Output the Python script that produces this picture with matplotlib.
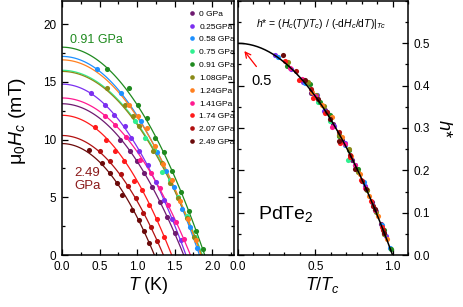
import numpy as np
import matplotlib
matplotlib.use('Agg')
import matplotlib.pyplot as plt
from matplotlib.ticker import MultipleLocator

plt.rcParams['font.family'] = ['Liberation Sans', 'DejaVu Sans']
plt.rcParams['mathtext.fontset'] = 'custom'
plt.rcParams['mathtext.rm'] = 'Liberation Sans'
plt.rcParams['mathtext.it'] = 'Liberation Sans:italic'

# pressure labels, colours, fit parameters (Hc0 in mT, Tc in K)
labels = ['0 GPa', '0.25GPa', '0.58 GPa', '0.75 GPa', '0.91 GPa', '1.08GPa',
          '1.24GPa', '1.41GPa', '1.74 GPa', '2.07 GPa', '2.49 GPa']
colors = ['#6e1a70', '#7b2ff0', '#1e90ff', '#30f090', '#1f8a1f', '#8a8a18',
          '#ff8020', '#ff1a90', '#ff1a1a', '#b01010', '#6a0a0a']
hc0 = [13.1, 14.8, 17.2, 16.0, 18.0, 15.9, 16.9, 13.6, 12.1, 10.35, 9.65]
tc = [1.62, 1.65, 1.83, 1.87, 1.90, 1.86, 1.85, 1.71, 1.46, 1.35, 1.23]

# measured points, T (K) and mu0Hc (mT)
T_0 = [0.77, 0.91, 1.00, 1.09, 1.20, 1.30, 1.40, 1.50]
H_0 = [10.0, 9.0, 8.1, 7.1, 5.9, 4.6, 3.3, 1.9]
T_025 = [0.39, 0.57, 0.69, 0.84, 0.92, 1.03, 1.14, 1.25, 1.36, 1.47, 1.58]
H_025 = [14.0, 13.0, 12.1, 11.2, 10.1, 9.0, 7.8, 6.3, 4.8, 3.1, 1.3]
T_058 = [0.47, 0.79, 1.05, 1.27, 1.38, 1.49, 1.60, 1.70, 1.80]
H_058 = [16.1, 14.0, 11.6, 8.9, 7.3, 5.9, 4.0, 2.4, 0.6]
T_075 = [0.97, 1.11, 1.22, 1.33, 1.44, 1.55, 1.66, 1.77]
H_075 = [11.6, 10.1, 9.1, 7.2, 6.5, 5.0, 3.4, 1.6]
T_091 = [0.60, 0.89, 1.01, 1.13, 1.24, 1.36, 1.47, 1.58, 1.69, 1.79, 1.88]
H_091 = [16.1, 14.5, 13.0, 11.9, 10.1, 8.9, 7.3, 5.5, 3.8, 2.1, 0.5]
T_108 = [0.60, 0.84, 0.94, 1.03, 1.21, 1.33, 1.44, 1.55, 1.66, 1.76]
H_108 = [14.5, 13.0, 12.0, 11.2, 9.0, 8.0, 6.2, 4.9, 3.2, 1.6]
T_124 = [0.89, 1.01, 1.13, 1.24, 1.35, 1.46, 1.57, 1.68, 1.78]
H_124 = [13.0, 12.0, 11.0, 9.4, 7.9, 6.5, 4.7, 3.1, 1.3]
T_141 = [0.57, 0.71, 0.85, 1.04, 1.18, 1.30, 1.41, 1.52, 1.62]
H_141 = [12.0, 11.3, 10.2, 8.2, 7.1, 5.8, 4.3, 2.9, 1.4]
T_174 = [0.44, 0.58, 0.71, 0.82, 0.96, 1.06, 1.16, 1.26, 1.36]
H_174 = [11.1, 10.0, 9.0, 8.1, 6.4, 5.6, 4.3, 3.1, 1.6]
T_207 = [0.51, 0.64, 0.78, 0.88, 0.98, 1.08, 1.18, 1.27]
H_207 = [9.0, 8.1, 7.0, 6.0, 4.9, 3.6, 2.4, 1.2]
T_249 = [0.36, 0.53, 0.64, 0.73, 0.80, 0.93, 1.02, 1.09, 1.16]
H_249 = [9.1, 8.0, 7.1, 6.2, 5.2, 3.9, 3.0, 2.1, 1.0]

Ts = [T_0, T_025, T_058, T_075, T_091, T_108, T_124, T_141, T_174, T_207, T_249]
Hs = [H_0, H_025, H_058, H_075, H_091, H_108, H_124, H_141, H_174, H_207, H_249]

fig = plt.figure(figsize=(4.63, 3.07), dpi=100)
ax1 = fig.add_axes([62 / 463, 52 / 307, 172 / 463, 254 / 307])
ax2 = fig.add_axes([238 / 463, 52 / 307, 170 / 463, 254 / 307])

for i in range(len(labels)):
    t = np.linspace(0, tc[i], 100)
    ax1.plot(t, hc0[i] * (1 - (t / tc[i]) ** 2), color=colors[i], lw=0.9, zorder=2)
    ax1.plot(Ts[i], Hs[i], 'o', color=colors[i], ms=3.7, mec='none', zorder=3,
             label=labels[i])
    # reduced field h* = (Hc/Tc) / (-dHc/dT|Tc) = Hc / (2 Hc0)
    tt = np.array(Ts[i]) / tc[i]
    hh = np.array(Hs[i]) / (2 * hc0[i])
    ax2.plot(tt, hh, 'o', color=colors[i], ms=3.7, mec='none', zorder=2)

tr = np.linspace(0, 1, 200)
ax2.plot(tr, (1 - tr ** 2) / 2, color='black', lw=1.1, zorder=4)

ax1.set_xlim(0, 2.29)
ax1.set_ylim(0, 22)
ax1.xaxis.set_major_locator(MultipleLocator(0.5))
ax1.xaxis.set_minor_locator(MultipleLocator(0.25))
ax1.yaxis.set_major_locator(MultipleLocator(5))
ax1.yaxis.set_minor_locator(MultipleLocator(2.5))
ax1.xaxis.set_major_formatter('{x:.1f}')
ax1.set_xlabel('$T$ (K)', fontsize=13, labelpad=2)
ax1.set_ylabel('μ$_0$$H_c$ (mT)', fontsize=14)
ax1.yaxis.set_label_coords(-0.2, 0.53)

ax2.set_xlim(0, 1.1)
ax2.set_ylim(0, 0.6)
ax2.xaxis.set_major_locator(MultipleLocator(0.5))
ax2.xaxis.set_minor_locator(MultipleLocator(0.1))
ax2.yaxis.set_major_locator(MultipleLocator(0.1))
ax2.yaxis.set_minor_locator(MultipleLocator(0.05))
ax2.set_yticks([0, 0.1, 0.2, 0.3, 0.4, 0.5])
ax2.xaxis.set_major_formatter('{x:.1f}')
ax2.yaxis.set_major_formatter('{x:.1f}')
ax2.yaxis.tick_right()
ax2.yaxis.set_label_position('right')
ax2.set_xlabel('$T/T_c$', fontsize=13, labelpad=2)
ax2.set_ylabel('$h$*', fontsize=13, rotation=270, labelpad=16)

for ax in (ax1, ax2):
    ax.tick_params(which='both', direction='in', top=True, right=True, left=True,
                   labelsize=8.5, width=0.9, pad=4)
    ax.tick_params(which='major', length=4)
    ax.tick_params(which='minor', length=2.5)
    for s in ax.spines.values():
        s.set_linewidth(1.1)
ax2.tick_params(which='both', labelleft=False, labelright=True)

ax1.legend(loc='upper left', bbox_to_anchor=(0.74, 0.965), frameon=False,
           fontsize=6, handlelength=0.6, handletextpad=0.6, labelspacing=0.6,
           borderpad=0, borderaxespad=0, markerscale=0.9)

ax1.text(0.1, 18.6, '0.91 GPa', color='#1f8a1f', fontsize=9, va='center')
ax1.text(0.16, 7.6, '2.49\nGPa', color='#8b1a1a', fontsize=9.5, va='top',
         linespacing=1.1)

ax2.text(0.535, 0.545, '$h$* = ($H_c$($T$)/$T_c$) / (-d$H_c$/d$T$)|$_{Tc}$',
         fontsize=7.5, ha='center', va='center')
ax2.annotate('', xy=(0.03, 0.487), xytext=(0.13, 0.44),
             arrowprops=dict(arrowstyle='->', color='red', lw=0.9))
ax2.text(0.085, 0.41, '0.5', fontsize=10.5, va='center')
ax2.text(0.13, 0.085, 'PdTe$_2$', fontsize=14, va='baseline')

fig.savefig('out.png', dpi=100)
